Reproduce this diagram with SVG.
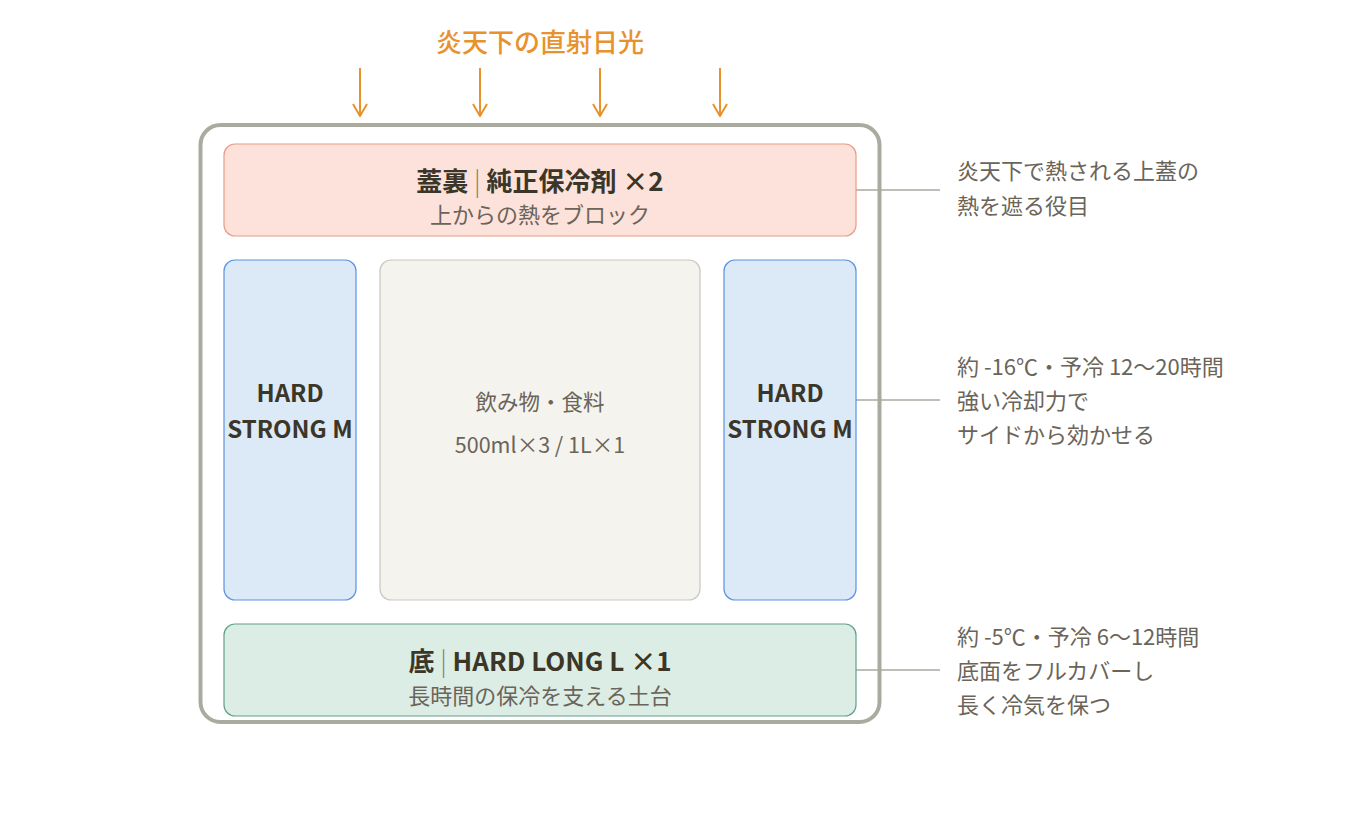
<svg xmlns="http://www.w3.org/2000/svg" width="1360" height="840" viewBox="0 0 1360 840">
<defs>
<marker id="ah" viewBox="0 0 14 16" refX="13" refY="8" markerWidth="14" markerHeight="16" markerUnits="userSpaceOnUse" orient="auto">
<path d="M1,1 L13,8 L1,15" fill="none" stroke="#e8922e" stroke-width="2"/>
</marker>
<style>
text{font-family:"Noto Sans CJK JP","Noto Sans",sans-serif;}
.t{font-size:26px;font-weight:700;fill:#3b3628;text-anchor:middle;}
.h{font-size:24px;font-weight:700;fill:#3b3628;text-anchor:middle;}
.s{font-size:22px;fill:#6b6459;text-anchor:middle;}
.c{font-size:21.5px;fill:#6b6459;text-anchor:middle;}
.a{font-size:22px;fill:#6b6459;}
.sep{font-weight:300;fill:#8a7a5a;}
.conn{stroke:#aaa9a0;stroke-width:1.5;fill:none;}
.arr{stroke:#e8922e;stroke-width:2;fill:none;}
</style>
</defs>
<rect width="1360" height="840" fill="#ffffff"/>
<g id="sun">
<text x="540" y="52" style="font-size:26px;font-weight:500;fill:#e8922e;text-anchor:middle;">炎天下の直射日光</text>
</g>
<g id="arrows">
<line class="arr" x1="360" y1="68" x2="360" y2="116" marker-end="url(#ah)"/>
<line class="arr" x1="480" y1="68" x2="480" y2="116" marker-end="url(#ah)"/>
<line class="arr" x1="600" y1="68" x2="600" y2="116" marker-end="url(#ah)"/>
<line class="arr" x1="720" y1="68" x2="720" y2="116" marker-end="url(#ah)"/>
</g>
<g id="container">
<rect x="200.5" y="125" width="679" height="597" rx="20" fill="#ffffff" stroke="#abaa9f" stroke-width="4"/>
</g>
<g id="connectors">
<line class="conn" x1="856" y1="190" x2="940" y2="190"/>
<line class="conn" x1="856" y1="400" x2="940" y2="400"/>
<line class="conn" x1="856" y1="670" x2="940" y2="670"/>
</g>
<g id="lid">
<rect x="224" y="144" width="632" height="92" rx="11" fill="#fce2db" stroke="#e99c84" stroke-width="1.2"/>
<text class="t" x="540" y="191">蓋裏<tspan class="sep"> | </tspan>純正保冷剤 ×2</text>
<text class="s" x="540" y="223">上からの熱をブロック</text>
</g>
<g id="left">
<rect x="224" y="260" width="132" height="340" rx="11" fill="#dce9f7" stroke="#5b93e0" stroke-width="1.2"/>
<text class="h" x="290" y="402">HARD</text>
<text class="h" x="290" y="438">STRONG M</text>
</g>
<g id="center">
<rect x="380" y="260" width="320" height="340" rx="11" fill="#f4f3ee" stroke="#c9c7bf" stroke-width="1.2"/>
<text class="c" x="540" y="410">飲み物・食料</text>
<text class="c" x="540" y="453">500ml×3 / 1L×1</text>
</g>
<g id="right">
<rect x="724" y="260" width="132" height="340" rx="11" fill="#dce9f7" stroke="#5b93e0" stroke-width="1.2"/>
<text class="h" x="790" y="402">HARD</text>
<text class="h" x="790" y="438">STRONG M</text>
</g>
<g id="bottom">
<rect x="224" y="624" width="632" height="92" rx="11" fill="#dcede6" stroke="#62a08a" stroke-width="1.2"/>
<text class="t" x="540" y="671">底<tspan class="sep"> | </tspan>HARD LONG L ×1</text>
<text class="s" x="540" y="704">長時間の保冷を支える土台</text>
</g>
<g id="note-top">
<text class="a" x="957" y="179">炎天下で熱される上蓋の</text>
<text class="a" x="957" y="214">熱を遮る役目</text>
</g>
<g id="note-mid">
<text class="a" x="957" y="375">約 -16℃・予冷 12〜20時間</text>
<text class="a" x="957" y="409">強い冷却力で</text>
<text class="a" x="957" y="443">サイドから効かせる</text>
</g>
<g id="note-bottom">
<text class="a" x="957" y="645">約 -5℃・予冷 6〜12時間</text>
<text class="a" x="957" y="679">底面をフルカバーし</text>
<text class="a" x="957" y="713">長く冷気を保つ</text>
</g>
</svg>
